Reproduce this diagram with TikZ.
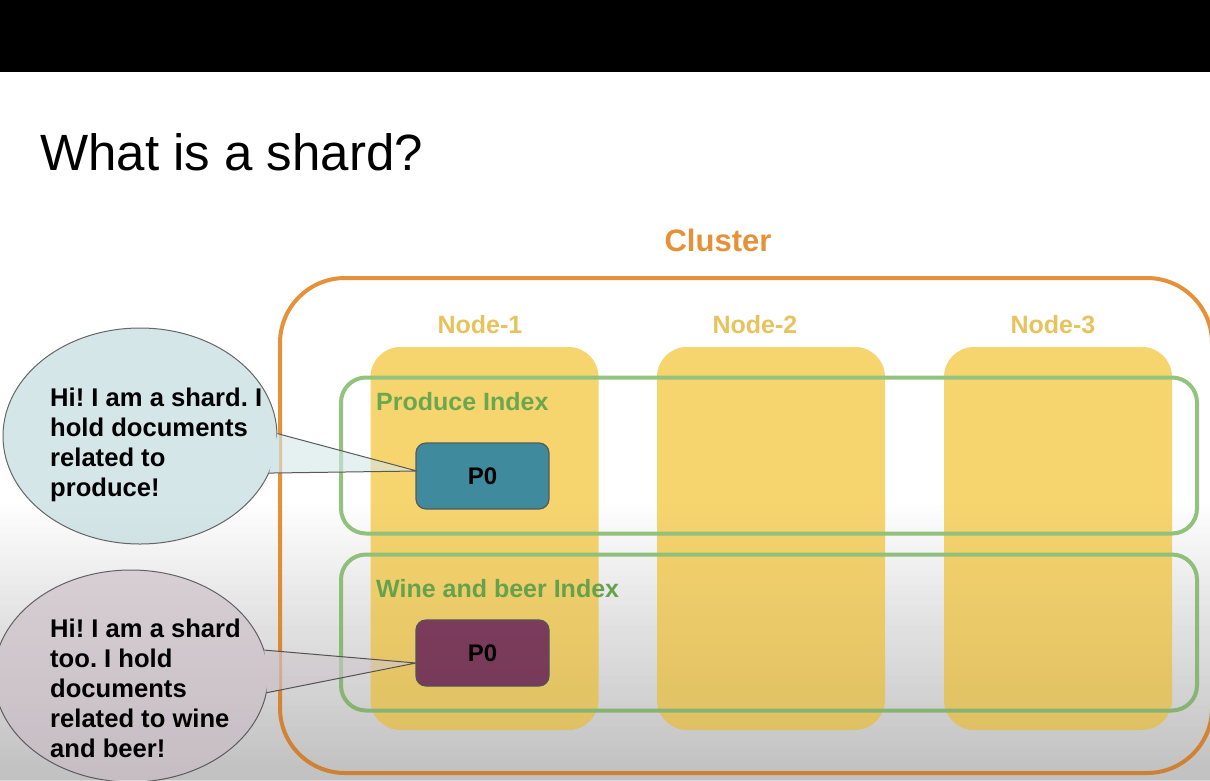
\documentclass[tikz,border=0pt]{standalone}
\usepackage{fontspec}
\setmainfont{Liberation Sans}
\usepackage{tikz}
\usetikzlibrary{positioning,shapes.geometric,fadings}
\frenchspacing

\definecolor{clusterorange}{HTML}{E69138}
\definecolor{nodeyellow}{HTML}{F6D46E}
\definecolor{nodelabel}{HTML}{E8C25C}
\definecolor{indexgreen}{HTML}{93C47D}
\definecolor{indextext}{HTML}{6AA84F}
\definecolor{shardteal}{HTML}{3F8A9D}
\definecolor{shardpurple}{HTML}{823F61}
\definecolor{bubbleblue}{HTML}{D5E6E8}
\definecolor{bubblepink}{HTML}{DED5DB}
\definecolor{slidegray}{HTML}{D8D8D8}

\tikzfading[name=fadeup, top color=transparent!100, bottom color=transparent!0]

\begin{document}
\begin{tikzpicture}
        [x = 1pt, y = -1pt, line join = round, inner sep = 0pt,
        nodebox/.style = {rectangle, rounded corners = 30pt, fill = nodeyellow,
            minimum width = 228pt, minimum height = 383pt},
        nodename/.style = {anchor = base, text = nodelabel, font = \fontsize{25}{30}\selectfont\bfseries},
        indexbox/.style = {rectangle, rounded corners = 25pt, draw = indexgreen, line width = 4pt,
            minimum width = 856pt, minimum height = 156pt},
        indexname/.style = {anchor = base west, text = indextext, font = \fontsize{25}{30}\selectfont\bfseries},
        shard/.style = {rectangle, rounded corners = 10pt, draw = black!65, line width = 1.2pt,
            minimum width = 133pt, minimum height = 66pt, font = \fontsize{24}{28}\selectfont\bfseries},
        bubble/.style = {ellipse, draw = black!60, line width = 1pt, minimum width = 274pt},
        bubbletext/.style = {anchor = north west, align = left, font = \fontsize{25.6}{30}\selectfont\bfseries},
        tail/.style = {draw = black!65, line width = 1pt}]

        %% canvas
        \useasboundingbox (0,0) rectangle (1210,780);
        \clip (0,0) rectangle (1210,780);
        \fill[white] (0,0) rectangle (1210,780);
        \fill[top color = white, bottom color = slidegray] (0,500) rectangle (1210,780);
        \fill[black] (0,0) rectangle (1210,72);
        \node[anchor = base west, font = \fontsize{51}{60}\selectfont] (title) at (40,170) {What is a shard?};

        %% cluster
        \node[anchor = base, text = clusterorange, font = \fontsize{31}{36}\selectfont\bfseries] (clustername) at (718,251) {Cluster};
        \node[rectangle, rounded corners = 65pt, draw = clusterorange, line width = 4pt,
            minimum width = 932pt, minimum height = 495pt] (cluster) at (746,525.5) {};

        %% nodes of the cluster
        \node[nodebox] (node1) at (484.5,538.5) {};
        \node[nodebox] (node2) at (771,538.5)   {};
        \node[nodebox] (node3) at (1058,538.5)  {};
        \node[nodename] (name1) at (480,333)  {Node-1};
        \node[nodename] (name2) at (755,333)  {Node-2};
        \node[nodename] (name3) at (1053,333) {Node-3};

        %% indices and their shards
        \node[indexbox] (produce) at (769,455.5) {};
        \node[indexbox] (wine)    at (769,632.5) {};
        \node[indexname] (producename) at (376,410) {Produce Index};
        \node[indexname] (winename)    at (376,597) {Wine and beer Index};
        \node[shard, fill = shardteal]   (p0a) at (482.5,476) {P0};
        \node[shard, fill = shardpurple] (p0b) at (482.5,653) {P0};

        %% speech bubbles
        \node[bubble, fill = bubbleblue, minimum height = 216pt] (bubA) at (140,436) {};
        \node[bubble, fill = bubblepink, minimum height = 212pt] (bubB) at (131,676) {};
        \coordinate (tipA) at (417,471);
        \coordinate (tipB) at (416,663);
        \begin{scope}
            \clip (0,300) rectangle (279,780);
            \fill[bubbleblue] (bubA.1) -- (tipA) -- (bubA.-16) -- cycle;
            \fill[bubblepink] (bubB.11) -- (tipB) -- (bubB.-7) -- cycle;
        \end{scope}
        \fill[bubbleblue, fill opacity = .6] (bubA.1) -- (tipA) -- (bubA.-16) -- cycle;
        \fill[bubblepink, fill opacity = .6] (bubB.11) -- (tipB) -- (bubB.-7) -- cycle;
        \path[tail] (bubA.1) -- (tipA) -- (bubA.-16);
        \path[tail] (bubB.11) -- (tipB) -- (bubB.-7);
        \node[bubbletext] (textA) at (50,388) {Hi! I am a shard. I\\hold documents\\related to\\produce!};
        \node[bubbletext] (textB) at (50,619) {Hi! I am a shard\\too. I hold\\documents\\related to wine\\and beer!};

        %% shadow of the lower part
        \fill[black, opacity = .11, path fading = fadeup] (0,500) rectangle (1210,780);
    \end{tikzpicture}
\end{document}
